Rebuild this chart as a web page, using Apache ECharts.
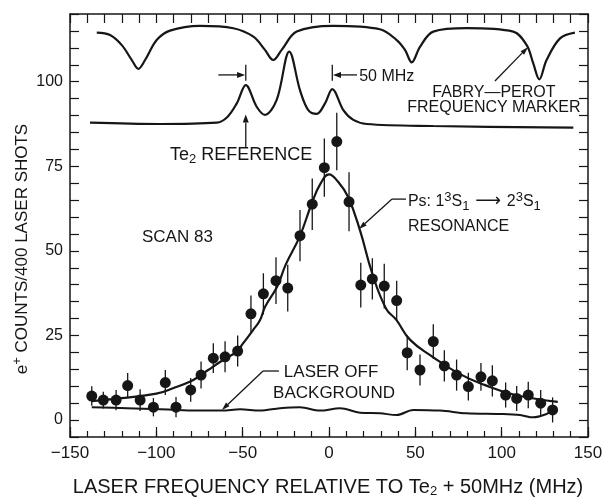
<!DOCTYPE html>
<html><head><meta charset="utf-8">
<script src="https://cdn.jsdelivr.net/npm/echarts@6/dist/echarts.min.js"></script>
<style>html,body{margin:0;padding:0;background:#fff}#c{width:607px;height:498px}</style>
</head><body><div id="c"></div>
<script>
// ---- tick labels ----
const xTicks = [-150, -100, -50, 0, 50, 100, 150];
const yTicks = [0, 25, 50, 75, 100];

// ---- measured e+ counts (Ps 1S-2S scan 83) ----
const pointX = [-137.4,-130.7,-123.3,-116.6,-109.4,-101.7,-94.8,-88.6,-80.1,-74.1,-67,-60.2,-52.9,-45.2,-38,-30.7,-23.9,-16.8,-9.7,-2.7,4.5,11.6,18.4,25.1,32,39.2,45.3,52.7,60.4,66.8,73.9,80.7,88,94.6,102.3,108.7,115.4,122.6,129.5];
const pointY = [7.1,5.9,5.9,10.2,5.9,3.8,11.1,3.8,8.9,13.3,18.3,18.7,20.4,31.4,37.3,41.2,39,54.5,63.8,74.6,82.3,64.5,39.9,41.7,39.6,35.3,19.9,14.8,23.2,16,13.3,9.9,12.8,11.6,7.4,6.4,7.4,5,3];
const pointErr = [2.9,2.5,3,3.7,3.2,2.7,3.7,3,3.5,4,4.4,4.6,4.6,5.4,6.1,6.9,6.9,7.6,7.6,8.6,8.5,8.7,6.6,6.1,6.6,5.9,5.2,4.6,5.1,4.6,4.6,4.1,4.1,4.6,3.7,3.7,3.9,3.9,3.7];

// ---- fitted resonance curve ----
const fitX = [-137.5,-120,-100,-90,-80,-75,-70,-60,-54,-50,-44,-40,-37,-30,-25,-17,-10,-5,0,5,11,18,25,33,39,47,60,75,90,108,132.5];
const fitY = [5.6,6.5,7.8,9.5,11.5,13,14.8,18.2,20,22.5,26.6,29.5,33.5,39.5,46,54.2,64,69.8,72.6,70.6,66,56,43.4,33,29.6,23.7,18.7,13.8,10.4,7.4,5.4];

// ---- laser-off background ----
const bgX = [-137.4,-117,-97.9,-88.2,-74.7,-62.1,-51.5,-40,-28.4,-16.8,-5.2,6.4,18,29.5,39.2,48.8,64.3,79.7,99,110.6,118.3,126,129];
const bgY = [3.8,3.5,3.2,3.0,2.8,2.8,3.2,2.8,3.5,3.8,2.8,3.5,2.2,2.0,1.5,3.0,2.8,2.0,1.8,1.5,0.8,1.8,2.8];

// ---- Te2 reference trace ----
const te2X = [-138.4,-97.9,-65,-59,-53.4,-48.2,-41.9,-37.1,-30.3,-23,-16.8,-12,-7.1,-2.3,1.9,8.3,14.1,21.8,60.4,141.5];
const te2Y = [87.9,87.5,87.9,89.5,93.6,99,92.6,90.2,94.6,108.9,97.5,91.6,90.5,93.6,97.8,91.6,88.7,87.5,86.9,86.4];

// ---- Fabry-Perot frequency marker trace ----
const fpX = [-134.5,-126.8,-120,-114.2,-110.4,-106.5,-99.8,-92.1,-74.7,-55.4,-43.8,-37.1,-32.3,-27.4,-18.7,2.5,29.5,39.2,44,47.9,52.7,60.4,79.7,106.7,114.5,118.3,121.8,126,133.8,142.4];
const fpY = [114.5,113.8,110.8,106.4,103.8,106.4,112.3,115.1,116.5,115.8,113.3,109.4,106.4,109.4,114.8,116.5,115.5,112.3,109.4,105.7,110.3,114.8,115.8,114.8,110.8,105.4,100.7,106.4,112.8,114.5];

const FONT = '"Liberation Sans", Arial, sans-serif';
const INK = '#161616';
const zip = (a, b) => a.map((v, i) => [v, b[i]]);
const trace = (x, y, w, s) => ({
  type: 'line', data: zip(x, y), symbol: 'none', smooth: s || 0.35,
  lineStyle: { color: INK, width: w || 2 }, silent: true, z: 3
});

const chart = echarts.init(document.getElementById('c'));
const axisLine = { onZero: false, lineStyle: { color: INK, width: 1.5 } };
const tickStyle = { color: INK, width: 1.2 };
const minus = v => String(v).replace('-', '\u2212');

chart.setOption({
  animation: false,
  grid: { left: 70, right: 19, top: 14, bottom: 61 },
  xAxis: [
    { type: 'value', min: -150, max: 150, interval: 10, position: 'bottom',
      axisLine: axisLine, splitLine: { show: false },
      axisTick: { inside: true, length: 6, lineStyle: tickStyle },
      axisLabel: { formatter: v => xTicks.includes(v) ? minus(v) : '', color: INK, fontSize: 17, fontFamily: FONT, margin: 8 } },
    { type: 'value', min: -150, max: 150, interval: 50, position: 'bottom',
      axisLine: { show: false, onZero: false }, splitLine: { show: false },
      axisTick: { inside: true, length: 10, lineStyle: tickStyle }, axisLabel: { show: false } },
    { type: 'value', min: -150, max: 150, interval: 10, position: 'top',
      axisLine: axisLine, splitLine: { show: false },
      axisTick: { inside: true, length: 9, lineStyle: tickStyle }, axisLabel: { show: false } }
  ],
  yAxis: [
    { type: 'value', min: -5, max: 120, interval: 5, position: 'left',
      axisLine: axisLine, splitLine: { show: false },
      axisTick: { inside: true, length: 9, lineStyle: tickStyle },
      axisLabel: { formatter: v => yTicks.includes(v) ? String(v) : '', color: INK, fontSize: 16, fontFamily: FONT, margin: 7 } },
    { type: 'value', min: -5, max: 120, interval: 5, position: 'right',
      axisLine: axisLine, splitLine: { show: false },
      axisTick: { inside: true, length: 9, lineStyle: tickStyle }, axisLabel: { show: false } }
  ],
  series: [
    trace(fpX, fpY, 2.2),
    trace(te2X, te2Y, 2.2),
    trace(fitX, fitY, 2.2, 0.45),
    trace(bgX, bgY, 2),
    { type: 'custom', z: 4, silent: true,
      data: pointX.map((x, i) => [x, pointY[i] - pointErr[i], pointY[i] + pointErr[i]]),
      renderItem: (params, api) => {
        const a = api.coord([api.value(0), api.value(1)]);
        const b = api.coord([api.value(0), api.value(2)]);
        return { type: 'line', shape: { x1: a[0], y1: a[1], x2: b[0], y2: b[1] }, style: { stroke: INK, lineWidth: 1.3 } };
      } },
    { type: 'scatter', z: 5, silent: true, data: zip(pointX, pointY), symbol: 'circle', symbolSize: 11,
      itemStyle: { color: INK, opacity: 1 } }
  ]
});

// ---- annotations (placed in data coordinates) ----
const P = (x, y) => chart.convertToPixel({ gridIndex: 0 }, [x, y]);
const els = [];
function seg(a, b, w) {
  els.push({ type: 'line', shape: { x1: a[0], y1: a[1], x2: b[0], y2: b[1] }, style: { stroke: INK, lineWidth: w || 1.3 }, z: 10 });
}
function arrow(a, b, head, width) {
  head = head || 8; width = width || 6;
  const ang = Math.atan2(b[1] - a[1], b[0] - a[0]);
  const bx = b[0] - head * Math.cos(ang), by = b[1] - head * Math.sin(ang);
  const nx = -Math.sin(ang) * width / 2, ny = Math.cos(ang) * width / 2;
  seg(a, [bx, by]);
  els.push({ type: 'polygon', shape: { points: [b, [bx + nx, by + ny], [bx - nx, by - ny]] }, style: { fill: INK }, z: 10 });
}
const SUB = { fontSize: 13, fontFamily: FONT, fill: INK, padding: [9, 0, 0, 0] };
const SUP = { fontSize: 13, fontFamily: FONT, fill: INK, padding: [0, 0, 9, 0] };
function text(p, str, size, align, extra) {
  els.push(Object.assign({ type: 'text', x: p[0], y: p[1], z: 10,
    style: { text: str, fontSize: size, fontFamily: FONT, fill: INK, align: align || 'left', verticalAlign: 'middle',
      rich: { n: { fontSize: size, fontFamily: FONT, fill: INK }, sub: SUB, sup: SUP,
              ar: { fontSize: size + 2, fontFamily: '"DejaVu Sans", sans-serif', fill: INK } } } }, extra || {}));
}

text(P(-92.1, 78.3), '{n|Te}{sub|2}{n| REFERENCE}', 18);
arrow(P(-48.2, 80.6), P(-48.2, 90.3));
arrow(P(-64.1, 102), P(-48.6, 102));
seg(P(-48.2, 100.3), P(-48.2, 105));
seg(P(1.9, 100.3), P(1.9, 105));
arrow(P(16.2, 102), P(2.3, 102));
text(P(17.5, 101.6), '50 MHz', 16);
text(P(95.5, 96.9), 'FABRY\u2014PEROT', 16, 'center');
text(P(95.5, 92.2), 'FREQUENCY MARKER', 16, 'center');
arrow(P(96.1, 100.2), P(115.2, 110.2), 8, 5);
text(P(45.7, 64.5), '{n|Ps: 1}{sup|3}{n|S}{sub|1}{ar| \u27F6 }{n|2}{sup|3}{n|S}{sub|1}', 16);
seg(P(44.6, 65.3), P(36.5, 65.3));
arrow(P(36.5, 65.3), P(17.4, 56.5), 8, 5);
text(P(45.7, 57.1), 'RESONANCE', 16);
text(P(-108.3, 54.1), 'SCAN 83', 17);
text(P(1.2, 14.2), 'LASER OFF', 17, 'center');
text(P(2.9, 8.0), 'BACKGROUND', 17, 'center');
seg(P(-29, 14.5), P(-38.2, 14.5));
arrow(P(-38.2, 14.5), P(-62, 3.0), 8, 5);

// axis titles
text([328, 487], '{n|LASER FREQUENCY RELATIVE TO Te}{sub|2}{n| + 50MHz (MHz)}', 20, 'center');
text([22, 249], '{n|e}{sup|+}{n| COUNTS/400 LASER SHOTS}', 17, 'center', { rotation: Math.PI / 2 });

chart.setOption({ graphic: { elements: els } });
</script>
</body></html>
